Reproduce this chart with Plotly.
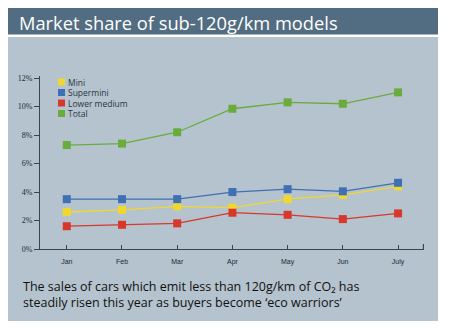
import plotly.graph_objects as go

months = ["Jan", "Feb", "Mar", "Apr", "May", "Jun", "July"]
mini = [2.6, 2.75, 3.0, 2.9, 3.5, 3.8, 4.4]
supermini = [3.5, 3.5, 3.5, 4.0, 4.2, 4.05, 4.65]
lower_medium = [1.6, 1.7, 1.8, 2.55, 2.4, 2.1, 2.5]
total = [7.3, 7.4, 8.2, 9.85, 10.3, 10.2, 11.0]
y_ticks = [0, 2, 4, 6, 8, 10, 12]

series = [
    ("Mini", mini, "#f0d830"),
    ("Supermini", supermini, "#3f6fb4"),
    ("Lower medium", lower_medium, "#d8372c"),
    ("Total", total, "#6aac3c"),
]

W, H = 450, 333
ML, MR, MT, MB = 40, 26, 76, 84
PW, PH = W - ML - MR, H - MT - MB


def px(x):
    return (x - ML) / PW


def py(y):
    return (H - MB - y) / PH


PANEL = "#b4c3cd"
BAR = "#526d82"
TXT = "#222a30"
AX = "#3a444c"

fig = go.Figure()
xs = list(range(len(months)))
for name, vals, col in series:
    fig.add_trace(go.Scatter(
        x=xs, y=vals, mode="lines+markers", name=name,
        line=dict(color=col, width=1.3),
        marker=dict(symbol="square", size=8, color=col),
        showlegend=False,
    ))

X_END = 6.46
shapes = [
    dict(type="rect", xref="paper", yref="paper", layer="below",
         x0=px(8), x1=px(438), y0=py(34.5), y1=py(8),
         fillcolor=BAR, line=dict(width=0)),
    dict(type="rect", xref="paper", yref="paper", layer="below",
         x0=px(8), x1=px(438), y0=py(321), y1=py(37),
         fillcolor=PANEL, line=dict(width=0)),
    dict(type="line", xref="x", yref="paper", x0=X_END, x1=X_END,
         y0=0, y1=5 / PH, line=dict(color=AX, width=1.2)),
]
annotations = [
    dict(text="Market share of sub-120g/km models", xref="paper", yref="paper",
         x=px(17), y=py(22), xanchor="left", yanchor="middle", showarrow=False,
         font=dict(family="Open Sans", size=18.3, color="white")),
    dict(text="The sales of cars which emit less than 120g/km of CO\u2082 has<br>"
              "steadily risen this year as buyers become \u2018eco warriors\u2019",
         xref="paper", yref="paper", x=px(21), y=py(276), xanchor="left", yanchor="top",
         align="left", showarrow=False,
         font=dict(family="Open Sans", size=12.5, color="#111")),
]
leg_y = [82, 92.5, 103, 113.5]
for (name, vals, col), yy in zip(series, leg_y):
    shapes.append(dict(type="rect", xref="paper", yref="paper",
                       x0=px(58), x1=px(65), y0=py(yy + 3.5), y1=py(yy - 3.5),
                       fillcolor=col, line=dict(width=0)))
    annotations.append(dict(text=name, xref="paper", yref="paper",
                            x=px(66), y=py(yy), xanchor="left", yanchor="middle",
                            showarrow=False,
                            font=dict(family="Open Sans", size=8.5, color="#2a3640")))

fig.update_layout(
    width=W, height=H,
    margin=dict(l=ML, r=MR, t=MT, b=MB),
    paper_bgcolor="white", plot_bgcolor="rgba(0,0,0,0)",
    shapes=shapes, annotations=annotations,
    showlegend=False,
)
fig.update_xaxes(
    range=[-0.485, 6.47],
    tickvals=xs, ticktext=months,
    ticks="inside", ticklen=4, tickcolor=AX, tickwidth=1,
    ticklabelstandoff=5,
    showline=True, linecolor=AX, linewidth=1.2,
    showgrid=False, zeroline=False,
    tickfont=dict(family="Liberation Sans", size=7, color=TXT),
)
fig.update_yaxes(
    range=[0, 12.15],
    tickvals=y_ticks, ticktext=[f"{v}%" for v in y_ticks],
    ticks="outside", ticklen=5, tickcolor=AX, tickwidth=1.2,
    showline=True, linecolor=AX, linewidth=1.2,
    showgrid=False, zeroline=False,
    tickfont=dict(family="Liberation Serif", size=8, color=TXT),
)

fig.write_html("out.html")
